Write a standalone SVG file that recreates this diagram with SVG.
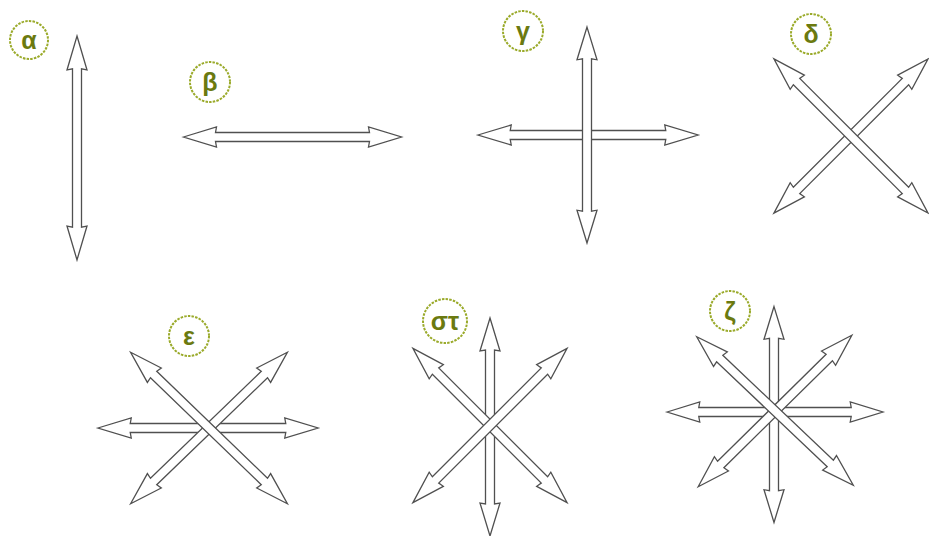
<svg xmlns="http://www.w3.org/2000/svg" xmlns:xlink="http://www.w3.org/1999/xlink" width="929" height="536" viewBox="0 0 929 536">
<style>
.arr{fill:#ffffff;stroke:#505050;stroke-width:1.3;stroke-linejoin:miter}
.lc{fill:#ffffff;stroke:#9aaa2a;stroke-width:2;stroke-dasharray:2.5 1.2}
.lt{font-family:"Liberation Sans","DejaVu Sans",sans-serif;font-weight:bold;font-size:25px;fill:#6b7a10;text-anchor:middle}
</style>
<defs>
<path id="arr" class="arr" d="M -109 0 L -76 -10 L -77 -4.5 L 77 -4.5 L 76 -10 L 109 0 L 76 10 L 77 4.5 L -77 4.5 L -76 10 Z"/>
</defs>
<rect width="929" height="536" fill="#ffffff"/>
<g id="alpha">
<use xlink:href="#arr" transform="translate(77,148) rotate(90) scale(1.027,1)"/>
<circle class="lc" cx="29" cy="40" r="19"/>
<text class="lt" x="29" y="48.5">α</text>
</g>
<g id="beta">
<use xlink:href="#arr" transform="translate(292.5,137)"/>
<circle class="lc" cx="210" cy="82" r="20"/>
<text class="lt" x="210" y="90.5">β</text>
</g>
<g id="gamma">
<use xlink:href="#arr" transform="translate(588,135) scale(1.01,1)"/>
<use xlink:href="#arr" transform="translate(587,135) rotate(90) scale(0.99,1)"/>
<circle class="lc" cx="523" cy="31" r="20"/>
<text class="lt" x="523" y="39.5">γ</text>
</g>
<g id="delta">
<use xlink:href="#arr" transform="translate(851,136) rotate(-45)"/>
<use xlink:href="#arr" transform="translate(851,136) rotate(45)"/>
<circle class="lc" cx="811" cy="34" r="20"/>
<text class="lt" x="811" y="42.5">δ</text>
</g>
<g id="epsilon">
<use xlink:href="#arr" transform="translate(208,428) scale(1.01,1)"/>
<use xlink:href="#arr" transform="translate(209,428) rotate(-44)"/>
<use xlink:href="#arr" transform="translate(209,428) rotate(44)"/>
<circle class="lc" cx="189" cy="336" r="20"/>
<text class="lt" x="189" y="344.5">ε</text>
</g>
<g id="stigma">
<use xlink:href="#arr" transform="translate(490,427) rotate(90)"/>
<use xlink:href="#arr" transform="translate(490,425.5) rotate(45)"/>
<use xlink:href="#arr" transform="translate(490,425.5) rotate(-45)"/>
<circle class="lc" cx="445" cy="321" r="22"/>
<text class="lt" x="445" y="329.5">στ</text>
</g>
<g id="zeta">
<use xlink:href="#arr" transform="translate(775,412) scale(0.99,1)"/>
<use xlink:href="#arr" transform="translate(774,414.5) rotate(90) scale(0.99,1)"/>
<use xlink:href="#arr" transform="translate(775,411) rotate(-44.6) scale(0.99,1)"/>
<use xlink:href="#arr" transform="translate(775,411) rotate(43.5) scale(0.99,1)"/>
<circle class="lc" cx="730" cy="311" r="20"/>
<text class="lt" x="730" y="319.5">ζ</text>
</g>
</svg>
